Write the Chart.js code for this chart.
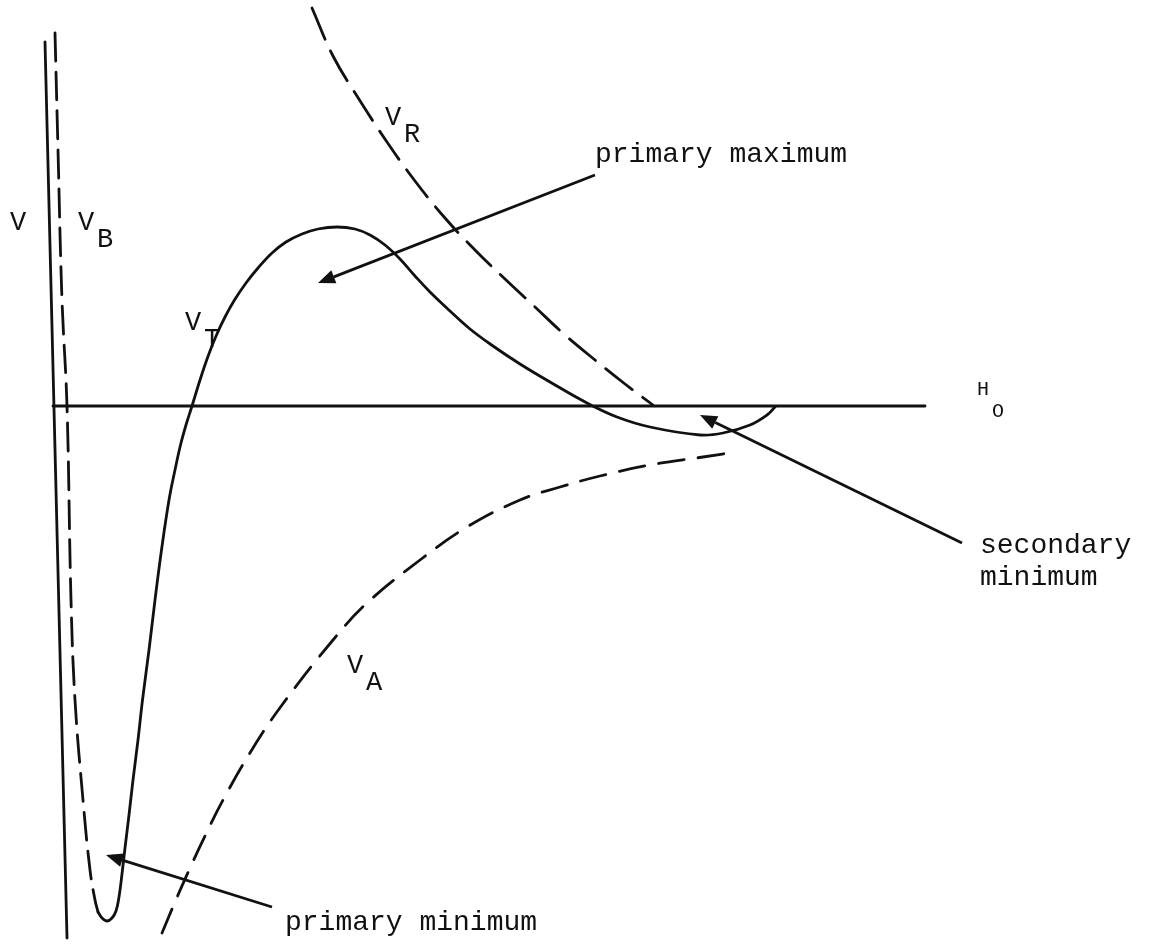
<!DOCTYPE html>
<html>
<head>
<meta charset="utf-8">
<script src="https://cdn.jsdelivr.net/npm/chart.js@4/dist/chart.umd.min.js"></script>
<style>
  html, body { margin: 0; padding: 0; background: #fff; }
  #plot { display: block; }
</style>
</head>
<body>
<canvas id="plot" width="1150" height="944"></canvas>
<script>
// separation distance H (arbitrary units) and potential energy V (arbitrary units)
const axisH = [-1.5, 0.7];
const axisV = [36.4, -53.2];

const baseH = [-0.7, 86.5];
const baseV = [0, 0];

// Born repulsion
const vbH = [-0.5, -0.2, 0.2, 0.7, 1.1, 1.5, 2.3, 3.0, 3.5, 3.8];
const vbV = [37.3, 25.6, 10.6, 0.0, -19.4, -29.4, -39.4, -46.4, -49.4, -50.6];

// total interaction energy
const vtH = [3.8, 4.2, 4.7, 5.2, 5.6, 5.9, 6.2, 6.5, 6.9, 7.3, 7.8, 8.25, 8.9, 9.5, 10.15, 10.9, 11.5, 12.05,
  12.6, 13.2, 14.0, 14.85, 15.65, 16.5, 17.45, 18.6, 19.8, 21.2, 22.6, 24.2, 25.8, 27.7,
  29.5, 31.0, 32.5, 34.0, 35.5, 37.0, 39.0, 41.0, 43.3, 46.0, 49.0, 52.7, 55.7, 59.0, 64.0, 66.3, 69.0, 70.7, 71.5];
const vtV = [-50.6, -51.2, -51.5, -51.2, -50.5, -49.1, -46.8, -44.2, -40.9, -37.4, -33.4, -29.4, -24.4, -19.4, -14.4, -9.4, -6.4, -3.9,
  -1.9, 0.0, 2.6, 5.1, 7.1, 8.9, 10.6, 12.3, 13.8, 15.3, 16.4, 17.2, 17.7, 17.9,
  17.7, 17.1, 16.1, 14.7, 13.0, 11.4, 9.5, 7.7, 6.0, 4.2, 2.4, 0.3, -1.1, -2.1, -2.9, -2.7, -1.9, -0.9, -0.1];

// double-layer repulsion
const vrH = [25.2, 27.3, 29.7, 32.7, 35.5, 38.5, 41.5, 44.5, 47.5, 50.5, 53.5, 56.5, 59.3];
const vrV = [39.8, 35.0, 31.0, 26.4, 22.5, 18.8, 15.6, 12.7, 9.9, 7.1, 4.6, 2.2, 0.1];

// van der Waals attraction
const vaH = [10.2, 11.5, 13.0, 14.5, 16.3, 19.3, 22.2, 27.3, 30.7, 36.0, 40.7, 46.0, 50.0, 54.0, 59.0, 64.3, 67.5];
const vaV = [-52.7, -49.6, -46.2, -43.0, -39.4, -34.2, -29.9, -23.4, -19.7, -15.4, -12.1, -9.4, -8.1, -7.0, -5.9, -5.1, -4.6];

// callouts: text anchor and arrow from/to
const noteText = ["primary maximum", "primary minimum", "secondary", "minimum"];
const noteH = [53.5, 22.5, 92.0, 92.0];
const noteV = [24.4, -52.4, -14.7, -17.9];

const arrowFromH = [53.5, 21.2, 90.2];
const arrowFromV = [23.1, -50.1, -13.7];
const arrowToH = [25.8, 4.6, 64.0];
const arrowToV = [12.3, -44.9, -0.9];

// curve symbols with subscripts
const symMain = ["V", "V", "V", "V", "V", "H"];
const symSub = ["", "B", "R", "T", "A", "O"];
const symH = [-5.0, 1.8, 32.5, 12.5, 28.7, 91.7];
const symV = [17.6, 17.6, 28.1, 7.6, -26.7, 1.1];

const INK = "#111";
const MONO = "'Courier New', 'Liberation Mono', monospace";

function pts(xs, ys) {
  return xs.map((x, i) => ({ x: x, y: ys[i] }));
}

function curve(xs, ys, dash) {
  return {
    data: pts(xs, ys),
    borderColor: INK,
    borderWidth: 2.8,
    borderDash: dash || [],
    borderCapStyle: "round",
    pointRadius: 0,
    tension: 0.4,
    fill: false,
  };
}

const textPlugin = {
  id: "sketchNotes",
  afterDatasetsDraw(chart) {
    const { ctx, scales } = chart;
    const px = (h) => scales.x.getPixelForValue(h);
    const py = (v) => scales.y.getPixelForValue(v);
    ctx.save();
    ctx.fillStyle = INK;
    ctx.strokeStyle = INK;
    ctx.textAlign = "left";
    ctx.textBaseline = "alphabetic";

    // arrows
    arrowFromH.forEach((h, i) => {
      const x0 = px(h), y0 = py(arrowFromV[i]);
      const x1 = px(arrowToH[i]), y1 = py(arrowToV[i]);
      const ang = Math.atan2(y1 - y0, x1 - x0);
      const len = 17, half = 7;
      const bx = x1 - len * Math.cos(ang), by = y1 - len * Math.sin(ang);
      ctx.lineWidth = 2.8;
      ctx.beginPath();
      ctx.moveTo(x0, y0);
      ctx.lineTo(bx, by);
      ctx.stroke();
      ctx.beginPath();
      ctx.moveTo(x1, y1);
      ctx.lineTo(bx + half * Math.sin(ang), by - half * Math.cos(ang));
      ctx.lineTo(bx - half * Math.sin(ang), by + half * Math.cos(ang));
      ctx.closePath();
      ctx.fill();
    });

    // callout text
    ctx.font = "28px " + MONO;
    noteText.forEach((t, i) => ctx.fillText(t, px(noteH[i]), py(noteV[i])));

    // symbols
    symMain.forEach((s, i) => {
      const small = s === "H";
      ctx.font = (small ? "20px " : "27px ") + MONO;
      const x = px(symH[i]), y = py(symV[i]);
      ctx.fillText(s, x, y);
      if (symSub[i]) {
        ctx.fillText(symSub[i], x + (small ? 15 : 19), y + (small ? 22 : 17));
      }
    });
    ctx.restore();
  },
};

new Chart(document.getElementById("plot"), {
  type: "line",
  data: {
    datasets: [
      curve(axisH, axisV),
      curve(baseH, baseV),
      curve(vbH, vbV, [28, 11]),
      curve(vtH, vtV),
      curve(vrH, vrV, [34, 13]),
      curve(vaH, vaV, [26, 14]),
    ],
  },
  options: {
    responsive: false,
    devicePixelRatio: 1,
    animation: false,
    layout: { padding: 0 },
    plugins: { legend: { display: false }, tooltip: { enabled: false } },
    scales: {
      x: { type: "linear", min: -6, max: 109, display: false },
      y: { type: "linear", min: -53.8, max: 40.6, display: false },
    },
  },
  plugins: [textPlugin],
});
</script>
</body>
</html>
